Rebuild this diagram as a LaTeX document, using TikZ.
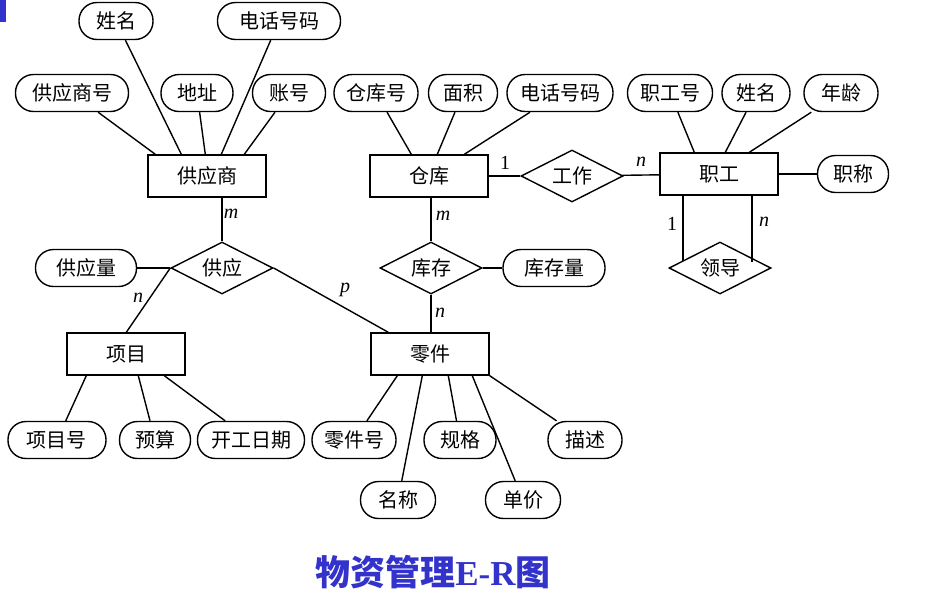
\documentclass[tikz,border=0pt]{standalone}
\usepackage{fontspec}
\setmainfont{Liberation Serif}
\newfontfamily\cjk{Noto Sans CJK SC}
\usetikzlibrary{shapes.geometric,calc}
\definecolor{ttl}{RGB}{51,51,204}
\begin{document}
\begin{tikzpicture}[x=1pt,y=-1pt,line width=1.4pt,
  every node/.style={font=\cjk\fontsize{20}{20}\selectfont},
  ent/.style={draw,line width=1.4pt,minimum width=118pt,minimum height=42pt,inner sep=0},
  rel/.style={draw,line width=1.4pt,diamond,aspect=2,minimum width=102pt,minimum height=52pt,inner sep=0},
  att/.style={draw,line width=1.4pt,rounded corners=18pt,minimum height=37pt,inner sep=0},
  card/.style={font=\itshape\fontsize{20}{20}\selectfont},
  line/.style={line width=1.4pt}]
\path[use as bounding box,fill=white] (0,0) rectangle (934,611);
\fill[ttl] (0,0) rectangle (6,22);
% entities
\node[ent] (gys) at (207,176) {供应商};
\node[ent] (ck) at (429,176) {仓库};
\node[ent] (zg) at (719,174) {职工};
\node[ent] (xm) at (126,354) {项目};
\node[ent] (lj) at (430,354) {零件};
% relations
\node[rel] (gy) at (222,268) {供应};
\node[rel] (kc) at (431,268) {库存};
\node[rel] (gz) at (572,176) {工作};
\node[rel] (ld) at (720,268) {领导};
% attributes
\node[att,minimum width=74pt] (a1) at (116,21) {姓名};
\node[att,minimum width=123pt] (a2) at (279,21) {电话号码};
\node[att,minimum width=113pt] (a3) at (72,93) {供应商号};
\node[att,minimum width=72pt] (a4) at (197,93) {地址};
\node[att,minimum width=73pt] (a5) at (289,93) {账号};
\node[att,minimum width=84pt] (b1) at (376,93) {仓库号};
\node[att,minimum width=69pt] (b2) at (463,93) {面积};
\node[att,minimum width=106pt] (b3) at (560,93) {电话号码};
\node[att,minimum width=85pt] (c1) at (670,93) {职工号};
\node[att,minimum width=68pt] (c2) at (756,93) {姓名};
\node[att,minimum width=74pt] (c3) at (841,93) {年龄};
\node[att,minimum width=71pt] (c4) at (853,174) {职称};
\node[att,minimum width=101pt] (d1) at (86,268) {供应量};
\node[att,minimum width=102pt] (d2) at (554,268) {库存量};
\node[att,minimum width=98pt] (e1) at (57,440) {项目号};
\node[att,minimum width=71pt] (e2) at (155,440) {预算};
\node[att,minimum width=107pt] (e3) at (251,440) {开工日期};
\node[att,minimum width=84pt] (f1) at (354,440) {零件号};
\node[att,minimum width=72pt] (f2) at (460,440) {规格};
\node[att,minimum width=74pt] (f3) at (585,440) {描述};
\node[att,minimum width=75pt] (f4) at (398,500) {名称};
\node[att,minimum width=75pt] (f5) at (523,500) {单价};
% attribute links
\draw[line] (a1) -- ($(gys.north west)+(34,0)$);
\draw[line] (a2) -- ($(gys.north west)+(74,0)$);
\draw[line] (a3) -- ($(gys.north west)+(8,0)$);
\draw[line] (a4) -- ($(gys.north west)+(58,0)$);
\draw[line] (a5) -- ($(gys.north west)+(97,0)$);
\draw[line] (b1) -- ($(ck.north west)+(42,0)$);
\draw[line] (b2) -- ($(ck.north west)+(68,0)$);
\draw[line] (b3) -- ($(ck.north west)+(95,0)$);
\draw[line] (c1) -- ($(zg.north west)+(35,0)$);
\draw[line] (c2) -- ($(zg.north west)+(66,0)$);
\draw[line] (c3) -- ($(zg.north west)+(90,0)$);
\draw[line] (zg) -- (c4);
\draw[line] (d1) -- (gy.west);
\draw[line] (kc) -- (d2);
\draw[line] (e1) -- ($(xm.south west)+(20,0)$);
\draw[line] (e2) -- ($(xm.south west)+(72,0)$);
\draw[line] (e3) -- ($(xm.south west)+(98,0)$);
\draw[line] (f1) -- ($(lj.south west)+(27,0)$);
\draw[line] (f4) -- ($(lj.south west)+(52,0)$);
\draw[line] (f2) -- ($(lj.south west)+(78,0)$);
\draw[line] (f5) -- ($(lj.south west)+(102,0)$);
\draw[line] (f3) -- (lj.south east);
% relationship links
\draw[line] (gys.south -| gy.north) -- (gy.north);
\draw[line] (gy.west) -- ($(xm.north west)+(60,0)$);
\draw[line] (gy.east) -- ($(lj.north west)+(18,0)$);
\draw[line] (ck.south -| kc.north) -- (kc.north);
\draw[line] (kc.south) -- (kc.south |- lj.north);
\draw[line] (ck) -- (gz);
\draw[line] (gz) -- (zg);
\draw[line] ($(zg.south)+(-36,0)$) -- ++(0,65);
\draw[line] ($(zg.south)+(33,0)$) -- ++(0,66);
% cardinalities
\node[card] (m1) at (231,214) {m};
\node[card] (n1) at (138,298) {n};
\node[card] (p1) at (345,290) {p};
\node[card] (m2) at (443,216) {m};
\node[card] (n2) at (440,313) {n};
\node[card,font=\fontsize{20}{20}\selectfont] (o1) at (505,163) {1};
\node[card] (n3) at (641,162) {n};
\node[card,font=\fontsize{20}{20}\selectfont] (o2) at (672,224) {1};
\node[card] (n4) at (764,222) {n};
% title
\node[text=ttl,font=\cjk\bfseries\fontsize{35}{35}\selectfont] (title) at (433,572) {物资管理{\rmfamily\bfseries E-R}图};
\end{tikzpicture}
\end{document}
